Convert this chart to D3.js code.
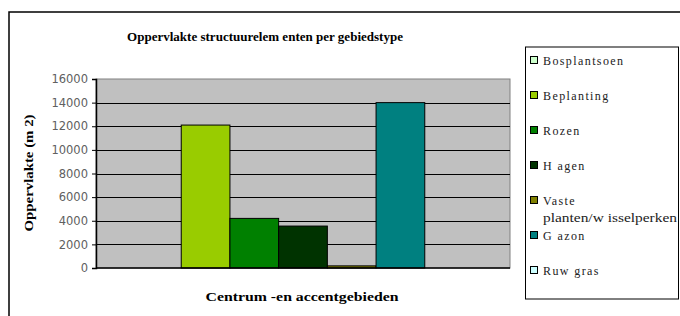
<!DOCTYPE html>
<html>
<head>
<meta charset="utf-8">
<script src="https://cdn.jsdelivr.net/npm/d3@7"></script>
<style>
  body { margin: 0; background: #fff; }
</style>
</head>
<body>
<div id="chart"></div>
<script>
// chart data
var category = "Centrum -en accentgebieden";
var series = ["Bosplantsoen", "Beplanting", "Rozen", "Hagen", "Vaste planten/wisselperken", "Gazon", "Ruw gras"];
var values = [0, 12100, 4200, 3550, 180, 14000, 0];
var colors = ["#CCFFCC", "#99CC00", "#008000", "#003300", "#808000", "#008080", "#CCFFFF"];
var yTicks = [0, 2000, 4000, 6000, 8000, 10000, 12000, 14000, 16000];

var svgWidth = 680, svgHeight = 316;
var plot = { left: 96, top: 79, right: 510, bottom: 268 };
var serif = 'Liberation Serif';

var svg = d3.select('#chart').append('svg')
  .attr('width', svgWidth)
  .attr('height', svgHeight);

// outer chart frame
svg.append('rect')
  .attr('x', 9).attr('y', 12)
  .attr('width', 680).attr('height', 320)
  .attr('fill', '#fff')
  .attr('stroke', '#000')
  .attr('stroke-width', 1.5);

// title
svg.append('text')
  .attr('x', 265).attr('y', 41)
  .attr('text-anchor', 'middle')
  .attr('font-family', serif)
  .attr('font-weight', 'bold')
  .attr('font-size', 13)
  .attr('textLength', 276)
  .attr('lengthAdjust', 'spacingAndGlyphs')
  .text('Oppervlakte structuurelem enten per gebiedstype');

// scales, excel style gap width 150%
var bw = (plot.right - plot.left) / (series.length + 1.5);
var x = d3.scaleBand().domain(series)
  .range([plot.left + 0.75 * bw, plot.right - 0.75 * bw])
  .padding(0);
var y = d3.scaleLinear().domain([0, 16000]).range([plot.bottom, plot.top]);

// plot area
svg.append('rect')
  .attr('x', plot.left).attr('y', plot.top)
  .attr('width', plot.right - plot.left)
  .attr('height', plot.bottom - plot.top)
  .attr('fill', '#C0C0C0')
  .attr('stroke', '#808080')
  .attr('stroke-width', 1);

// gridlines
svg.append('g').selectAll('line')
  .data(yTicks.filter(function(d) { return d > 0 && d < 16000; }))
  .enter().append('line')
  .attr('x1', plot.left).attr('x2', plot.right)
  .attr('y1', function(d) { return Math.round(y(d)) + 0.5; })
  .attr('y2', function(d) { return Math.round(y(d)) + 0.5; })
  .attr('stroke', '#000')
  .attr('stroke-width', 1);

// bars
svg.append('g').selectAll('rect')
  .data(series)
  .enter().append('rect')
  .filter(function(d, i) { return values[i] > 0; })
  .attr('x', function(d) { return x(d); })
  .attr('y', function(d) { return y(values[series.indexOf(d)]); })
  .attr('width', x.bandwidth())
  .attr('height', function(d) { return plot.bottom - y(values[series.indexOf(d)]); })
  .attr('fill', function(d) { return colors[series.indexOf(d)]; })
  .attr('stroke', '#000')
  .attr('stroke-width', 1);

// y axis
var leftAxis = d3.axisLeft(y).tickValues(yTicks).tickSize(4).tickPadding(4).tickFormat(d3.format('d'));
var ax = svg.append('g')
  .attr('transform', 'translate(' + plot.left + ',0)')
  .call(leftAxis);
ax.select('.domain').attr('stroke', '#000').attr('stroke-width', 1.5);
ax.selectAll('.tick line').attr('stroke', '#000');
ax.selectAll('.tick text')
  .attr('font-family', 'DejaVu Sans')
  .attr('font-size', 11.5)
  .attr('fill', '#606060');

// bottom axis line
svg.append('line')
  .attr('x1', plot.left).attr('x2', plot.right)
  .attr('y1', plot.bottom).attr('y2', plot.bottom)
  .attr('stroke', '#000').attr('stroke-width', 1.5);

// y axis title
svg.append('text')
  .attr('transform', 'translate(33,173) rotate(-90)')
  .attr('text-anchor', 'middle')
  .attr('font-family', serif)
  .attr('font-weight', 'bold')
  .attr('font-size', 12.5)
  .attr('textLength', 117)
  .attr('lengthAdjust', 'spacingAndGlyphs')
  .text('Oppervlakte (m 2)');

// category label
svg.append('text')
  .attr('x', 302).attr('y', 301)
  .attr('text-anchor', 'middle')
  .attr('font-family', serif)
  .attr('font-weight', 'bold')
  .attr('font-size', 12.5)
  .attr('textLength', 193)
  .attr('lengthAdjust', 'spacingAndGlyphs')
  .text(category);

// legend
var legend = svg.append('g');
legend.append('rect')
  .attr('x', 525.5).attr('y', 47)
  .attr('width', 153).attr('height', 252)
  .attr('fill', '#fff')
  .attr('stroke', '#000')
  .attr('stroke-width', 1);

var legendLabels = [["Bosplantsoen"], ["Beplanting"], ["Rozen"], ["H agen"], ["Vaste", "planten/w isselperken"], ["G azon"], ["Ruw gras"]];
var itemY = [61, 96, 131, 166, 201, 236, 271];

var items = legend.selectAll('g.item')
  .data(series)
  .enter().append('g')
  .attr('class', 'item')
  .attr('transform', function(d, i) { return 'translate(530,' + itemY[i] + ')'; });

items.append('rect')
  .attr('x', 0.5).attr('y', -4.5)
  .attr('width', 7).attr('height', 7)
  .attr('fill', function(d, i) { return colors[i]; })
  .attr('stroke', '#000')
  .attr('stroke-width', 1);

items.each(function(d, i) {
  var g = d3.select(this);
  legendLabels[i].forEach(function(line, j) {
    var t = g.append('text')
      .attr('x', 13).attr('y', 3.5 + j * 17)
      .attr('font-family', serif)
      .attr('font-size', 12)
      .attr('letter-spacing', 1.4)
      .attr('fill', '#222')
      .text(line);
    if (line.length > 15) {
      t.attr('letter-spacing', 0)
        .attr('textLength', 134)
        .attr('lengthAdjust', 'spacingAndGlyphs');
    }
  });
});
</script>
</body>
</html>
